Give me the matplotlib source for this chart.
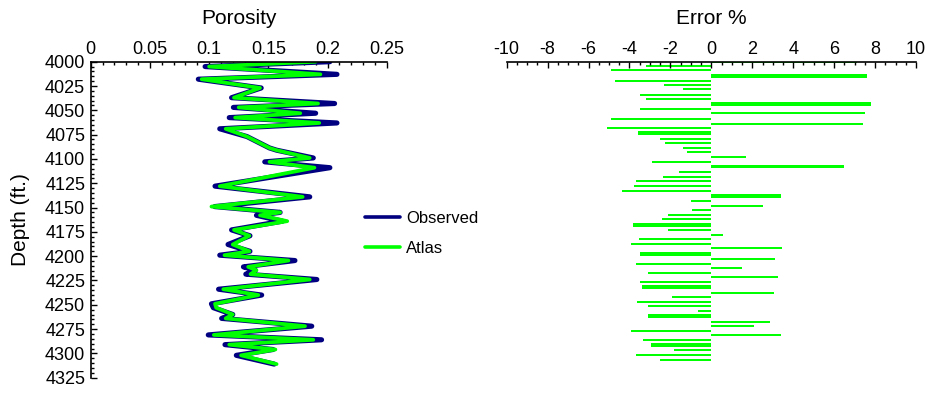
import matplotlib
matplotlib.use('Agg')
import matplotlib.pyplot as plt
from matplotlib.ticker import MultipleLocator

plt.rcParams['font.family'] = ['Liberation Sans', 'DejaVu Sans']
plt.rcParams['axes.unicode_minus'] = False

# ---- Porosity log (turning points) ----
curve_depth = [4000, 4005, 4013, 4018, 4027, 4037, 4043, 4047, 4053, 4057.5,
               4063, 4069, 4077, 4088.7, 4091, 4099, 4103, 4109, 4128, 4139,
               4149, 4155, 4158, 4164, 4173, 4179, 4188, 4195, 4199, 4204.5,
               4211, 4214.5, 4218.5, 4224, 4234, 4240, 4249, 4253, 4260, 4264,
               4272, 4281, 4286, 4291, 4296, 4302, 4311]
observed = [0.202, 0.0966, 0.208, 0.0909, 0.144, 0.119, 0.206, 0.1205, 0.190, 0.117,
            0.208, 0.109, 0.132, 0.151, 0.157, 0.188, 0.147, 0.202, 0.105, 0.185,
            0.1047, 0.160, 0.140, 0.162, 0.119, 0.1345, 0.116, 0.1345, 0.109, 0.1725,
            0.129, 0.139, 0.131, 0.191, 0.108, 0.1444, 0.102, 0.1036, 0.120, 0.1106,
            0.1867, 0.0993, 0.195, 0.1134, 0.154, 0.123, 0.155]
atlas = [0.190, 0.100, 0.194, 0.0937, 0.143, 0.121, 0.192, 0.125, 0.177, 0.122,
         0.193, 0.114, 0.132, 0.151, 0.157, 0.185, 0.151, 0.189, 0.109, 0.179,
         0.102, 0.160, 0.143, 0.166, 0.121, 0.134, 0.120, 0.134, 0.113, 0.167,
         0.133, 0.140, 0.135, 0.185, 0.112, 0.1416, 0.105, 0.106, 0.120, 0.114,
         0.181, 0.104, 0.188, 0.117, 0.156, 0.127, 0.157]

# ---- Error % per sample ----
err_depth = [4000.8, 4004.4, 4008.5, 4013.85, 4015.55, 4019.5, 4024.0, 4028.0, 4034.0, 4038.0,
             4042.65, 4044.35, 4049.0, 4053.0, 4058.6, 4063.7, 4067.8, 4072.45, 4074.15, 4079.4,
             4083.6, 4088.7, 4092.8, 4097.6, 4103.0, 4107.05, 4108.75, 4113.4, 4118.5, 4122.6,
             4127.8, 4132.9, 4137.15, 4138.85, 4142.9, 4148.3, 4152.4, 4157.6, 4161.7, 4167.05,
             4168.75, 4173.0, 4178.1, 4182.2, 4187.4, 4191.5, 4196.75, 4198.45, 4202.8, 4207.9,
             4212.0, 4217.2, 4221.3, 4226.4, 4230.75, 4232.45, 4237.7, 4241.8, 4247.0, 4251.1,
             4256.2, 4260.55, 4262.25, 4267.5, 4271.6, 4276.8, 4280.9, 4286.0, 4290.35, 4292.05,
             4296.3, 4301.4, 4306.6]
err_pct = [7.1, -3.2, -4.9, 7.6, 7.6, -4.7, -2.3, -1.4, -3.5, -3.2,
           7.8, 7.8, -3.5, 7.5, -4.9, 7.4, -5.1, -3.6, -3.6, -2.5,
           -2.25, -1.4, -1.2, 1.7, -2.9, 6.5, 6.5, -1.57, -2.35, -3.67,
           -3.77, -4.36, 3.38, 3.38, -0.98, 2.54, -0.93, -2.1, -2.4, -3.82,
           -3.82, -2.1, 0.59, -3.52, -3.92, 3.43, -3.47, -3.47, 3.13, -3.67,
           1.52, -3.08, 3.28, -3.47, -3.38, -3.38, 3.08, -1.91, -3.62, -3.08,
           -0.64, -3.08, -3.08, 2.89, 2.1, -3.92, 3.38, -3.33, -2.94, -2.94,
           -1.81, -3.67, -2.5]

W, H = 929, 393
fig = plt.figure(figsize=(W / 100, H / 100), dpi=100)
ax1 = fig.add_axes([90.7 / W, 1 - 377.7 / H, 296 / W, 316 / H])
ax2 = fig.add_axes([506.7 / W, 1 - 377.7 / H, 409.3 / W, 316 / H])

navy = '#000080'
lime = '#00ff00'

ax1.plot(observed, curve_depth, color=navy, lw=3.7, solid_joinstyle='round',
         solid_capstyle='round', label='Observed')
ax1.plot(atlas, curve_depth, color=lime, lw=2.7, solid_joinstyle='round',
         solid_capstyle='round', label='Atlas')
ax1.set_xlim(0, 0.25)
ax1.set_ylim(4325, 4000)
ax1.xaxis.tick_top()
ax1.set_xticks([0, 0.05, 0.1, 0.15, 0.2, 0.25])
ax1.set_xticklabels(['0', '0.05', '0.1', '0.15', '0.2', '0.25'])
ax1.xaxis.set_minor_locator(MultipleLocator(0.01))
ax1.set_yticks(list(range(4000, 4326, 25)))
ax1.yaxis.set_minor_locator(MultipleLocator(5))
for s in ['bottom', 'right']:
    ax1.spines[s].set_visible(False)
for s in ['top', 'left']:
    ax1.spines[s].set_linewidth(1.2)
ax1.tick_params(axis='both', which='both', direction='in', labelsize=13, width=1)
ax1.tick_params(axis='x', which='major', length=4, pad=3, top=True, bottom=False)
ax1.tick_params(axis='x', which='minor', length=2.5, top=True, bottom=False)
ax1.tick_params(axis='y', which='major', length=4, pad=4, left=True, right=False)
ax1.tick_params(axis='y', which='minor', length=2.5, left=True, right=False)

ax2.barh(err_depth, err_pct, height=2.0, color=lime, linewidth=0, antialiased=False)
ax2.set_xlim(-10, 10)
ax2.set_ylim(4325, 4000)
ax2.xaxis.tick_top()
ax2.set_xticks(list(range(-10, 11, 2)))
ax2.xaxis.set_minor_locator(MultipleLocator(0.5))
ax2.set_yticks([])
for s in ['bottom', 'right', 'left']:
    ax2.spines[s].set_visible(False)
ax2.spines['top'].set_linewidth(1.2)
ax2.tick_params(axis='x', which='both', direction='in', labelsize=13, width=1,
                top=True, bottom=False)
ax2.tick_params(axis='x', which='major', length=4, pad=3)
ax2.tick_params(axis='x', which='minor', length=2.5)

fig.text(238.7 / W, 1 - 18 / H, 'Porosity', ha='center', va='center', fontsize=15)
fig.text(711.3 / W, 1 - 18 / H, 'Error %', ha='center', va='center', fontsize=15)
fig.text(21 / W, 1 - 220 / H, 'Depth (ft.)', ha='center', va='center',
         rotation=90, fontsize=15)

leg = fig.legend(loc='upper left', bbox_to_anchor=(365 / W, 1 - 211 / H),
                 frameon=False, fontsize=12, handlelength=2.1, handletextpad=0.35,
                 labelspacing=0.9, borderpad=0, borderaxespad=0)
for line in leg.get_lines():
    line.set_linewidth(2.6)

fig.savefig('out.png', dpi=100)
